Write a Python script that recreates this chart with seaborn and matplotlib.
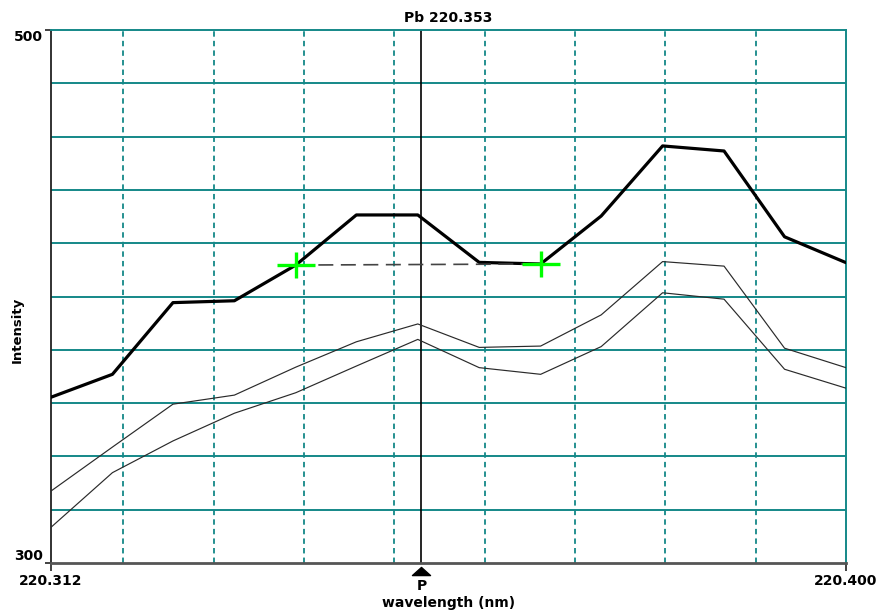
import numpy as np
import pandas as pd
import seaborn as sns
import matplotlib
matplotlib.use("Agg")
import matplotlib.pyplot as plt
from matplotlib.path import Path
from matplotlib.ticker import MultipleLocator

# Scan positions (nm) across the Pb 220.353 window
wavelength = [220.3120, 220.3188, 220.3255, 220.3323, 220.3391, 220.3458, 220.3526,
              220.3594, 220.3662, 220.3729, 220.3797, 220.3865, 220.3932, 220.4000]

# Intensity traces
peak_main = [362.2, 370.8, 397.7, 398.4, 411.8, 430.6, 430.6,
             412.8, 412.2, 430.2, 456.5, 454.6, 422.4, 412.7]
replicate_a = [327.0, 343.5, 359.6, 363.0, 373.5, 383.0, 389.7,
               380.9, 381.4, 393.1, 413.1, 411.4, 380.6, 373.3]
replicate_b = [313.4, 333.9, 345.8, 356.2, 363.9, 373.9, 383.9,
               373.3, 370.8, 381.2, 401.4, 399.0, 372.7, 365.6]

# Background correction points (indices into the scan)
background_idx = [4, 8]

peak_wavelength = 220.353
x_range = [220.312, 220.400]
y_range = [300, 500]
x_tick_labels = ["220.312", "220.400"]
y_tick_labels = ["300", "500"]
title = "Pb 220.353"

df = pd.DataFrame({
    "wavelength": wavelength * 3,
    "intensity": peak_main + replicate_a + replicate_b,
    "trace": ["main"] * 14 + ["rep_a"] * 14 + ["rep_b"] * 14,
})

sns.set_style("white")
plt.rcParams["font.family"] = ["DejaVu Sans"]
plt.rcParams["font.weight"] = "bold"
plt.rcParams["text.color"] = "black"
plt.rcParams["axes.labelcolor"] = "black"
plt.rcParams["xtick.color"] = "black"
plt.rcParams["ytick.color"] = "black"

teal = "#148888"
fig = plt.figure(figsize=(8.81, 6.14), dpi=100)
ax = fig.add_axes([51 / 881, 51 / 614, 795 / 881, 533 / 614])

# Grid: solid horizontal, dotted vertical
ax.yaxis.set_minor_locator(MultipleLocator(20))
ax.xaxis.set_minor_locator(MultipleLocator(0.01))
ax.grid(False)
ax.grid(which="minor", axis="y", color=teal, lw=1.4, ls="-")
ax.grid(which="minor", axis="x", color=teal, lw=1.3, ls=(0, (3, 2.3)))
ax.set_axisbelow(True)

styles = {"main": ("#000000", 2.3), "rep_a": ("#2a2a2a", 0.85), "rep_b": ("#2a2a2a", 0.85)}
for name, (col, lw) in styles.items():
    sns.lineplot(data=df[df["trace"] == name], x="wavelength", y="intensity",
                 color=col, lw=lw, estimator=None, sort=False, ax=ax, zorder=3)

# Peak position marker line
ax.axvline(peak_wavelength, color="black", lw=1.2, zorder=2)

# Background baseline between the correction points
bx = [wavelength[i] for i in background_idx]
by = [peak_main[i] for i in background_idx]
ax.plot(bx, by, color="#444444", lw=1.2, dashes=(9, 4.5), zorder=4)

cross = Path([(-1, 0), (1, 0), (0, -0.68), (0, 0.68)],
             [Path.MOVETO, Path.LINETO, Path.MOVETO, Path.LINETO])
ax.plot(bx, by, ls="none", marker=cross, markersize=28, markeredgewidth=2.4,
        markeredgecolor="#00ff00", zorder=5)

ax.set_xlim(*x_range)
ax.set_ylim(*y_range)

# Spines
for side in ["top", "right"]:
    ax.spines[side].set_color(teal)
    ax.spines[side].set_linewidth(1.4)
ax.spines["left"].set_color("#222222")
ax.spines["left"].set_linewidth(1.3)
ax.spines["bottom"].set_color("#555555")
ax.spines["bottom"].set_linewidth(2.0)

ax.set_xticks(x_range)
ax.set_xticklabels(x_tick_labels)
ax.set_yticks(y_range)
ax.set_yticklabels(y_tick_labels)
ax.tick_params(axis="x", which="major", length=6, width=1.3, color="#333333",
               pad=2, labelsize=10, direction="out", bottom=True, labelcolor="black")
ax.tick_params(axis="y", which="major", length=4.5, width=1.3, color="#333333",
               pad=1.5, labelsize=10, direction="out", left=True, labelcolor="black")
ax.tick_params(which="minor", length=0)
for lab in ax.get_xticklabels() + ax.get_yticklabels():
    lab.set_fontweight("bold")
ylabs = ax.get_yticklabels()
ylabs[0].set_va("bottom")
ylabs[1].set_va("top")

ax.set_title(title, fontsize=10, fontweight="bold", pad=6, color="black")
ax.set_xlabel("wavelength (nm)", fontsize=10, fontweight="bold", color="black")
ax.xaxis.set_label_coords(0.5, -0.075)
ax.xaxis.label.set_va("center")
ax.set_ylabel("Intensity", fontsize=9.5, fontweight="bold", color="black")
ax.yaxis.set_label_coords(-0.043, 0.437)
ax.yaxis.label.set_va("center")

# Peak indicator below the axis
tri = Path([(-1, -0.45), (1, -0.45), (0, 0.45), (-1, -0.45)],
           [Path.MOVETO, Path.LINETO, Path.LINETO, Path.CLOSEPOLY])
trans = matplotlib.transforms.blended_transform_factory(ax.transData, ax.transAxes)
ptrans = matplotlib.transforms.offset_copy(trans, fig=fig, x=0, y=-5.6, units="points")
ax.plot([peak_wavelength], [0], transform=ptrans, marker=tri, markersize=13,
        color="black", ls="none", clip_on=False)
ax.annotate("P", xy=(peak_wavelength, 0), xycoords=trans, xytext=(0, -16.5),
            textcoords="offset points", ha="center", va="center",
            fontsize=10, fontweight="bold", color="black")

fig.savefig("out.png", dpi=100)
